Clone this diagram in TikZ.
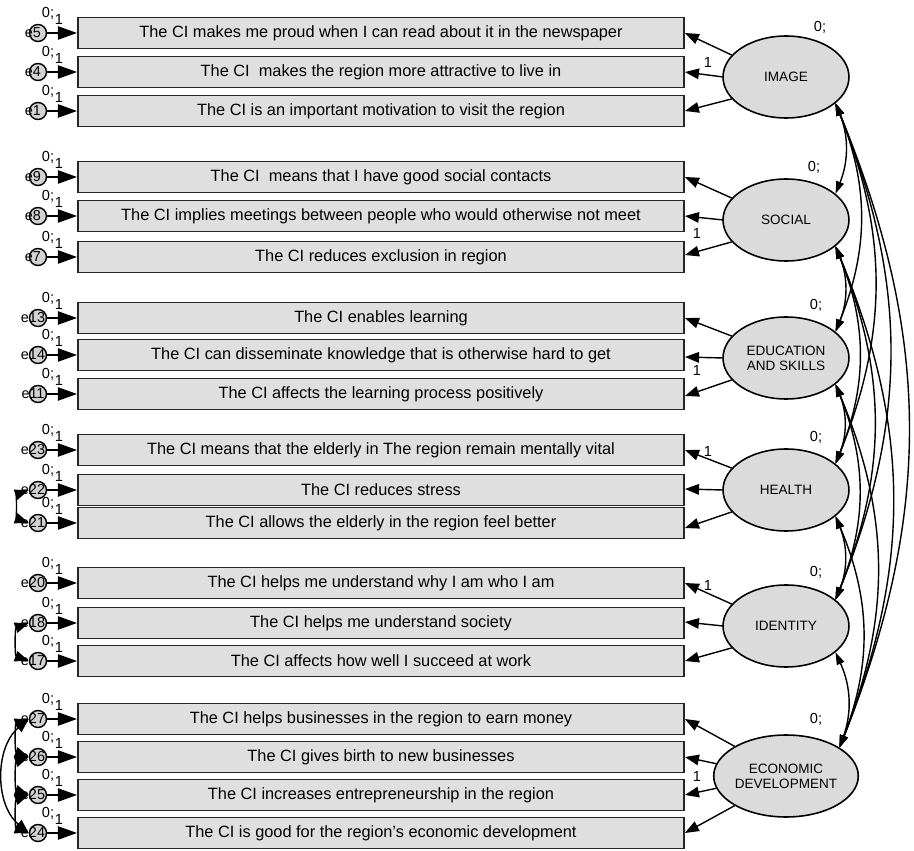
\documentclass[tikz,border=0pt]{standalone}
\usepackage{fontspec}
\setmainfont{Liberation Sans}
\usetikzlibrary{arrows.meta,shapes.geometric,calc}
\begin{document}
\begin{tikzpicture}[x=0.02cm,y=-0.02cm,
  item/.style={draw=black!85,line width=1.1pt,fill=gray!25,minimum width=12.12cm,
    minimum height=0.62cm,inner sep=0pt,font=\fontsize{9.3}{10}\selectfont},
  factor/.style={ellipse,draw,line width=0.9pt,fill=gray!28,minimum width=2.52cm,
    minimum height=1.64cm,inner sep=0pt,align=center,font=\fontsize{7.7}{8.6}\selectfont},
  err/.style={circle,draw,line width=0.8pt,fill=gray!35,minimum size=0.34cm,inner sep=0pt},
  errlab/.style={font=\fontsize{8.2}{9}\selectfont,inner sep=0pt},
  load/.style={-{Triangle[length=8pt,width=6pt]},line width=0.8pt},
  errarr/.style={-{Triangle[length=11pt,width=7.5pt]},line width=1.3pt},
  cov/.style={{Triangle[length=7pt,width=4.5pt]}-{Triangle[length=7pt,width=4.5pt]},line width=0.8pt},
  ecov/.style={{Triangle[length=8pt,width=6pt]}-{Triangle[length=8pt,width=6pt]},line width=0.8pt},
  par/.style={font=\fontsize{8.3}{9}\selectfont,inner sep=0pt},
]
\useasboundingbox (0,0) rectangle (914,851);

% observed items with their error terms
\foreach \n/\y/\e/\t in {
  1/33/e5/{The CI makes me proud when I can read about it in the newspaper},
  2/72/e4/{The CI\ \ makes the region more attractive to live in},
  3/111/e1/{The CI is an important motivation to visit the region},
  4/177/e9/{The CI\ \ means that I have good social contacts},
  5/216/e8/{The CI implies meetings between people who would otherwise not meet},
  6/257/e7/{The CI reduces exclusion in region},
  7/318/e13/{The CI enables learning},
  8/355/e14/{The CI can disseminate knowledge that is otherwise hard to get},
  9/394/e11/{The CI affects the learning process positively},
  10/450/e23/{The CI means that the elderly in The region remain mentally vital},
  11/490/e22/{The CI reduces stress},
  12/523/e21/{The CI allows the elderly in the region feel better},
  13/583/e20/{The CI helps me understand why I am who I am},
  14/623/e18/{The CI helps me understand society},
  15/661/e17/{The CI affects how well I succeed at work},
  16/719/e27/{The CI helps businesses in the region to earn money},
  17/757/e26/{The CI gives birth to new businesses},
  18/795/e25/{The CI increases entrepreneurship in the region},
  19/833/e24/{The CI is good for the region's economic development}} {
  \node[item] (i\n) at (381,\y) {\t};
  \node[err] (c\n) at (38,\y) {};
  \node[errlab] (l\n) at (33,\y) {\e};
  \draw[errarr] (c\n) -- (i\n.west);
  \node[par] (z\n) at (48,\y-20) {0;};
  \node[par] (o\n) at (59,\y-14) {1};
}

% latent factors
\node[factor] (img) at (786,77) {IMAGE};
\node[factor] (soc) at (786,220) {SOCIAL};
\node[factor] (edu) at (786,358) {EDUCATION\\AND SKILLS};
\node[factor] (hea) at (786,490) {HEALTH};
\node[factor] (ide) at (786,626) {IDENTITY};
\node[factor] (eco) at (786,776) {ECONOMIC\\DEVELOPMENT};

\foreach \f/\dx/\dy in {img/34/-50, soc/28/-53, edu/30/-53, hea/30/-53, ide/30/-54, eco/30/-57}
  \node[par] at ($(\f)+(\dx,\dy)$) {0;};

% factor loadings
\foreach \f/\a in {img/1, soc/4, edu/7, hea/10, ide/13} {
  \draw[load] (\f.158) -- (i\a.east);
  \draw[load] ($(\f.180)+(1,0)$) -- ($(i\a.east)+(0,39)$);
  \draw[load] (\f.202) -- ($(i\a.east)+(0,78)$);
}
\draw[load] (eco.150) -- (i16.east);
\draw[load] (eco.170) -- (i17.east);
\draw[load] (eco.190) -- (i18.east);
\draw[load] (eco.210) -- (i19.east);

\node[par] at (708,62) {1};
\node[par] at (697,233) {1};
\node[par] at (697,370) {1};
\node[par] at (708,451) {1};
\node[par] at (708,585) {1};
\node[par] at (697,776) {1};

% factor covariances
\foreach \a/\b in {img/soc,img/edu,img/hea,img/ide,img/eco,
                   soc/edu,soc/hea,soc/ide,soc/eco,
                   edu/hea,edu/ide,edu/eco,
                   hea/ide,hea/eco,ide/eco}
  \draw[cov] (\a.-28) to[bend left=22] (\b.28);

% error covariances
\draw[ecov] (c11.west) to[bend right=70] (c12.west);
\draw[ecov] (c14.west) to[bend right=70] (c15.west);
\draw[ecov] (c16.west) to[bend right=70] (c17.west);
\draw[ecov] (c17.west) to[bend right=70] (c18.west);
\draw[ecov] (c18.west) to[bend right=70] (c19.west);
\draw[ecov] (c16.west) to[bend right=50] (c19.west);
\end{tikzpicture}
\end{document}
